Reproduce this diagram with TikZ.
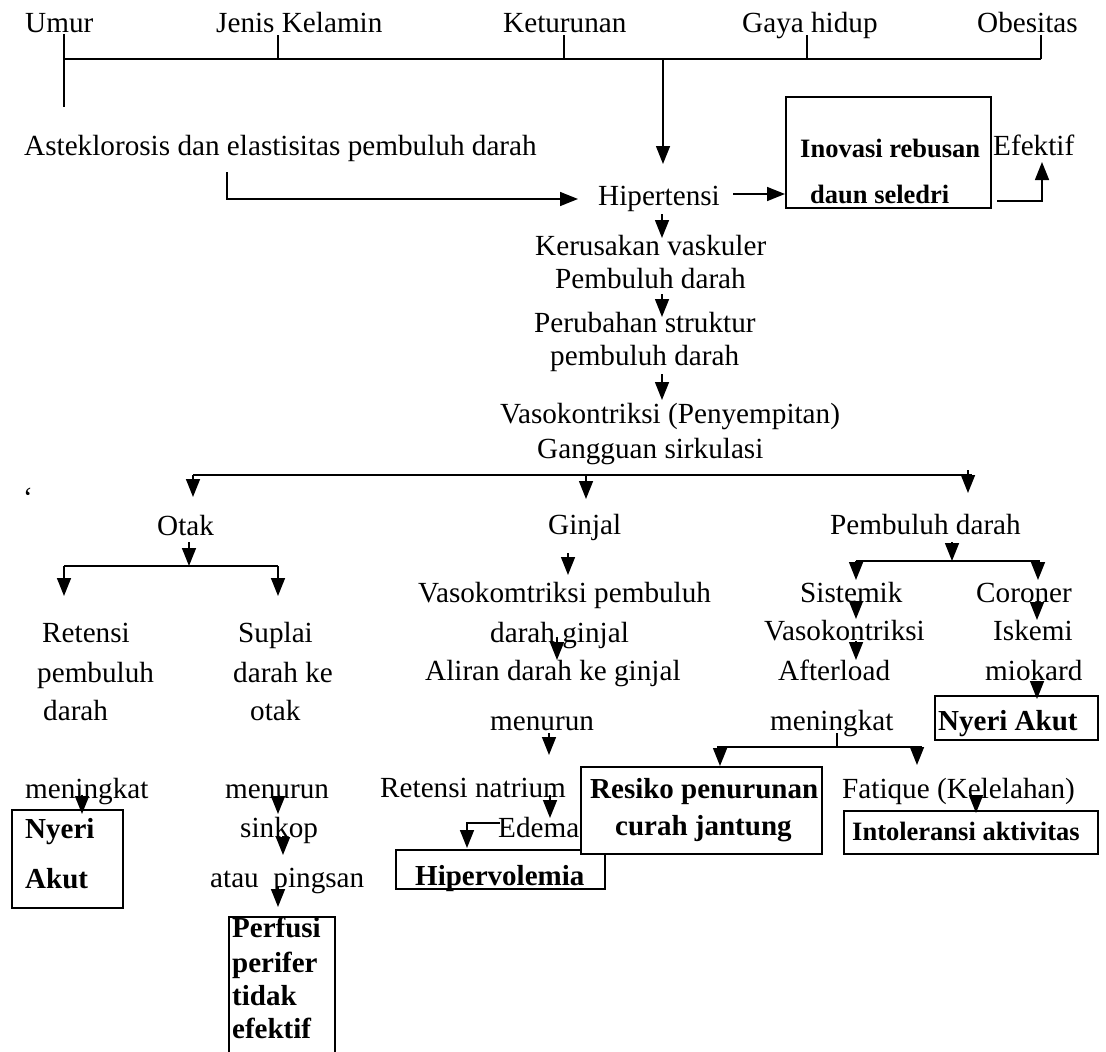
\documentclass[tikz,border=0pt]{standalone}
\usepackage{fontspec}
\setmainfont{Liberation Serif}
\usetikzlibrary{arrows.meta}
\begin{document}
\begin{tikzpicture}[x=1pt,y=-1pt,
  txt/.style={anchor=base west, inner sep=0pt, font=\fontsize{29.2}{35}\selectfont},
  btxt/.style={anchor=base west, inner sep=0pt, font=\fontsize{29}{35}\selectfont\bfseries},
  sbtxt/.style={anchor=base west, inner sep=0pt, font=\fontsize{26.5}{32}\selectfont\bfseries},
  ln/.style={line width=1.5pt},
  arr/.style={line width=1.5pt, -{Triangle[width=14pt,length=18pt]}},
  bx/.style={draw, line width=1.6pt, inner sep=0pt, anchor=north west, fill=white}]
\useasboundingbox (0,0) rectangle (1106,1052);
\clip (0,0) rectangle (1106,1052);
\fill[white] (0,0) rectangle (1106,1052);

% ---------- top factors ----------
\node[txt] (umur) at (25,32) {Umur};
\node[txt] (jk) at (216,32) {Jenis Kelamin};
\node[txt] (ket) at (503,32) {Keturunan};
\node[txt] (gaya) at (742,32) {Gaya hidup};
\node[txt] (obes) at (977,32) {Obesitas};

\coordinate (barL) at (64,59);
\coordinate (barR) at (1041,59);
\coordinate (umT) at (64,34);
\coordinate (umB) at (64,107);
\coordinate (jkT) at (278,35);   \coordinate (jkB) at (278,59);
\coordinate (ktT) at (564,35);   \coordinate (ktB) at (564,59);
\coordinate (gyT) at (807,35);   \coordinate (gyB) at (807,59);
\coordinate (obT) at (1041,35);
\coordinate (barD) at (663,59);
\coordinate (hipIn) at (663,164);
\draw[ln] (barL) -- (barR);
\draw[ln] (umT) -- (umB);
\draw[ln] (jkT) -- (jkB);
\draw[ln] (ktT) -- (ktB);
\draw[ln] (gyT) -- (gyB);
\draw[ln] (obT) -- (barR);
\draw[arr] (barD) -- (hipIn);

\node[txt] (aste) at (24,155) {Asteklorosis dan elastisitas pembuluh darah};
\coordinate (asteA) at (227,172);
\coordinate (asteB) at (227,199);
\coordinate (hipL) at (578,199);
\draw[arr] (asteA) -- (asteB) -- (hipL);

\node[txt] (hip) at (598,205) {Hipertensi};

% Inovasi box
\node[bx, minimum width=205pt, minimum height=111pt] (inov) at (785,96) {};
\node[sbtxt] (inov1) at (800,157) {Inovasi rebusan};
\node[sbtxt] (inov2) at (810,203) {daun seledri};
\coordinate (hipR) at (733,194);
\draw[arr] (hipR) -- (inov.west |- hipR);

\node[txt] (efek) at (993,155) {Efektif};
\coordinate (efA) at (997,201);
\coordinate (efB) at (1042,201);
\coordinate (efC) at (1042,162);
\draw[arr] (efA) -- (efB) -- (efC);

% ---------- central chain ----------
\coordinate (hipD) at (662,214);
\coordinate (kerT) at (662,238);
\draw[arr] (hipD) -- (kerT);
\node[txt] (ker) at (535,255) {Kerusakan vaskuler};
\node[txt] (pd1) at (555,288) {Pembuluh darah};
\coordinate (pd1D) at (662,294);
\coordinate (perT) at (662,317);
\draw[arr] (pd1D) -- (perT);
\node[txt] (per) at (534,332) {Perubahan struktur};
\node[txt] (pd2) at (550,365) {pembuluh darah};
\coordinate (pd2D) at (662,374);
\coordinate (vasoT) at (662,400);
\draw[arr] (pd2D) -- (vasoT);
\node[txt] (vaso) at (500,423) {Vasokontriksi (Penyempitan)};
\node[txt] (gang) at (537,458) {Gangguan sirkulasi};
\node[txt] (grave) at (23,507) {\symbol{"60}};

\coordinate (gL) at (193,475);
\coordinate (gM) at (586,475);
\coordinate (gR) at (972,475);
\coordinate (gRt) at (968,470);
\draw[ln] (gL) -- (gR);
\coordinate (otakT) at (193,497);
\coordinate (ginT) at (586,499);
\coordinate (pdrT) at (968,493);
\draw[arr] (gL) -- (otakT);
\draw[arr] (gM) -- (ginT);
\draw[arr] (gRt) -- (pdrT);

% ---------- Otak branch ----------
\node[txt] (otak) at (157,535) {Otak};
\coordinate (otD) at (189,542);
\coordinate (otB) at (189,566);
\draw[arr] (otD) -- (otB);
\coordinate (obL) at (64,566);
\coordinate (obR) at (278,566);
\draw[ln] (obL) -- (obR);
\coordinate (retT) at (64,596);
\coordinate (supT) at (278,596);
\draw[arr] (obL) -- (retT);
\draw[arr] (obR) -- (supT);

\node[txt] (ret1) at (42,642) {Retensi};
\node[txt] (ret2) at (37,682) {pembuluh};
\node[txt] (ret3) at (43,720) {darah};
\node[txt] (ret4) at (25,798) {meningkat};

\node[bx, minimum width=111pt, minimum height=98pt] (nyeriL) at (11,809) {};
\node[btxt] (ny1) at (25,838) {Nyeri};
\node[btxt] (ny2) at (25,888) {Akut};
\coordinate (retD) at (82,795);
\coordinate (nyT) at (82,814);
\draw[arr] (retD) -- (nyT);

\node[txt] (sup1) at (238,642) {Suplai};
\node[txt] (sup2) at (233,682) {darah ke};
\node[txt] (sup3) at (250,720) {otak};
\node[txt] (sup4) at (225,798) {menurun};
\node[txt] (sink) at (240,837) {sinkop};
\node[txt] (atau) at (210,887) {atau\ \ pingsan};
\coordinate (supD) at (278,796);
\coordinate (sinT) at (278,814);
\draw[arr] (supD) -- (sinT);
\coordinate (sinD) at (283,836);
\coordinate (atT) at (283,855);
\draw[arr] (sinD) -- (atT);
\coordinate (atD) at (278,886);
\coordinate (pfT) at (278,907);
\draw[arr] (atD) -- (pfT);

\node[bx, minimum width=106pt, minimum height=200pt] (perf) at (228,916) {};
\node[btxt] (pf1) at (232,937) {Perfusi};
\node[btxt] (pf2) at (232,972) {perifer};
\node[btxt] (pf3) at (232,1005) {tidak};
\node[btxt] (pf4) at (232,1038) {efektif};

% ---------- Ginjal branch ----------
\node[txt] (ginjal) at (548,534) {Ginjal};
\coordinate (ginD) at (568,553);
\coordinate (vgT) at (568,575);
\draw[arr] (ginD) -- (vgT);
\node[txt] (vg1) at (418,602) {Vasokomtriksi pembuluh};
\node[txt] (vg2) at (490,642) {darah ginjal};
\coordinate (vgD) at (557,637);
\coordinate (alT) at (557,660);
\draw[arr] (vgD) -- (alT);
\node[txt] (al1) at (425,680) {Aliran darah ke ginjal};
\node[txt] (al2) at (490,730) {menurun};
\coordinate (alD) at (549,733);
\coordinate (rnT) at (549,755);
\draw[arr] (alD) -- (rnT);
\node[txt] (rn) at (380,797) {Retensi natrium};
\coordinate (rnD) at (550,795);
\coordinate (edT) at (550,818);
\draw[arr] (rnD) -- (edT);
\node[txt] (edema) at (498,837) {Edema};

\node[bx, minimum width=209pt, minimum height=39pt] (hiper) at (395,849) {};
\node[btxt] (hipv) at (415,885) {Hipervolemia};
\coordinate (edA) at (500,823);
\coordinate (edB) at (467,823);
\coordinate (hvT) at (467,848);
\draw[arr] (edA) -- (edB) -- (hvT);

% ---------- Pembuluh darah branch ----------
\node[txt] (pdr) at (830,534) {Pembuluh darah};
\coordinate (pdrD) at (952,542);
\coordinate (pdrB) at (952,561);
\draw[arr] (pdrD) -- (pdrB);
\coordinate (pbL) at (856,561);
\coordinate (pbR) at (1040,561);
\draw[ln] (pbL) -- (pbR);
\coordinate (sisT) at (856,580);
\coordinate (corT) at (1038,580);
\coordinate (pbR2) at (1038,561);
\draw[arr] (pbL) -- (sisT);
\draw[arr] (pbR2) -- (corT);

\node[txt] (sis) at (800,602) {Sistemik};
\node[txt] (svas) at (764,640) {Vasokontriksi};
\node[txt] (aft) at (778,680) {Afterload};
\node[txt] (ming) at (770,730) {meningkat};
\coordinate (sisD) at (856,601);
\coordinate (svT) at (856,619);
\draw[arr] (sisD) -- (svT);
\coordinate (svD) at (856,641);
\coordinate (afT) at (856,660);
\draw[arr] (svD) -- (afT);

\node[txt] (cor) at (976,602) {Coroner};
\node[txt] (isk) at (993,640) {Iskemi};
\node[txt] (mio) at (985,680) {miokard};
\coordinate (corD) at (1037,602);
\coordinate (isT) at (1037,620);
\draw[arr] (corD) -- (isT);

\node[bx, minimum width=163pt, minimum height=44pt] (nyeriR) at (934,695) {};
\node[btxt] (nyR) at (938,730) {Nyeri Akut};
\coordinate (mioD) at (1037,681);
\coordinate (nrT) at (1037,699);
\draw[arr] (mioD) -- (nrT);

\coordinate (mgD) at (837,733);
\coordinate (mgB) at (837,747);
\draw[ln] (mgD) -- (mgB);
\coordinate (mbL) at (717,747);
\coordinate (mbR) at (922,747);
\draw[ln] (mbL) -- (mbR);
\coordinate (mbA) at (720,747);
\coordinate (rsT) at (720,766);
\coordinate (mbB) at (917,747);
\coordinate (ftT) at (917,765);
\draw[arr] (mbA) -- (rsT);
\draw[arr] (mbB) -- (ftT);

\node[bx, minimum width=241pt, minimum height=87pt] (resiko) at (580,766) {};
\node[btxt] (rs1) at (590,798) {Resiko penurunan};
\node[btxt] (rs2) at (615,835) {curah jantung};

\node[txt] (fat) at (842,798) {Fatique (Kelelahan)};
\node[bx, minimum width=254pt, minimum height=43pt] (intol) at (843,810) {};
\node[sbtxt] (intx) at (852,840) {Intoleransi aktivitas};
\coordinate (fatD) at (976,795);
\coordinate (inT) at (976,813);
\draw[arr] (fatD) -- (inT);
\end{tikzpicture}
\end{document}
